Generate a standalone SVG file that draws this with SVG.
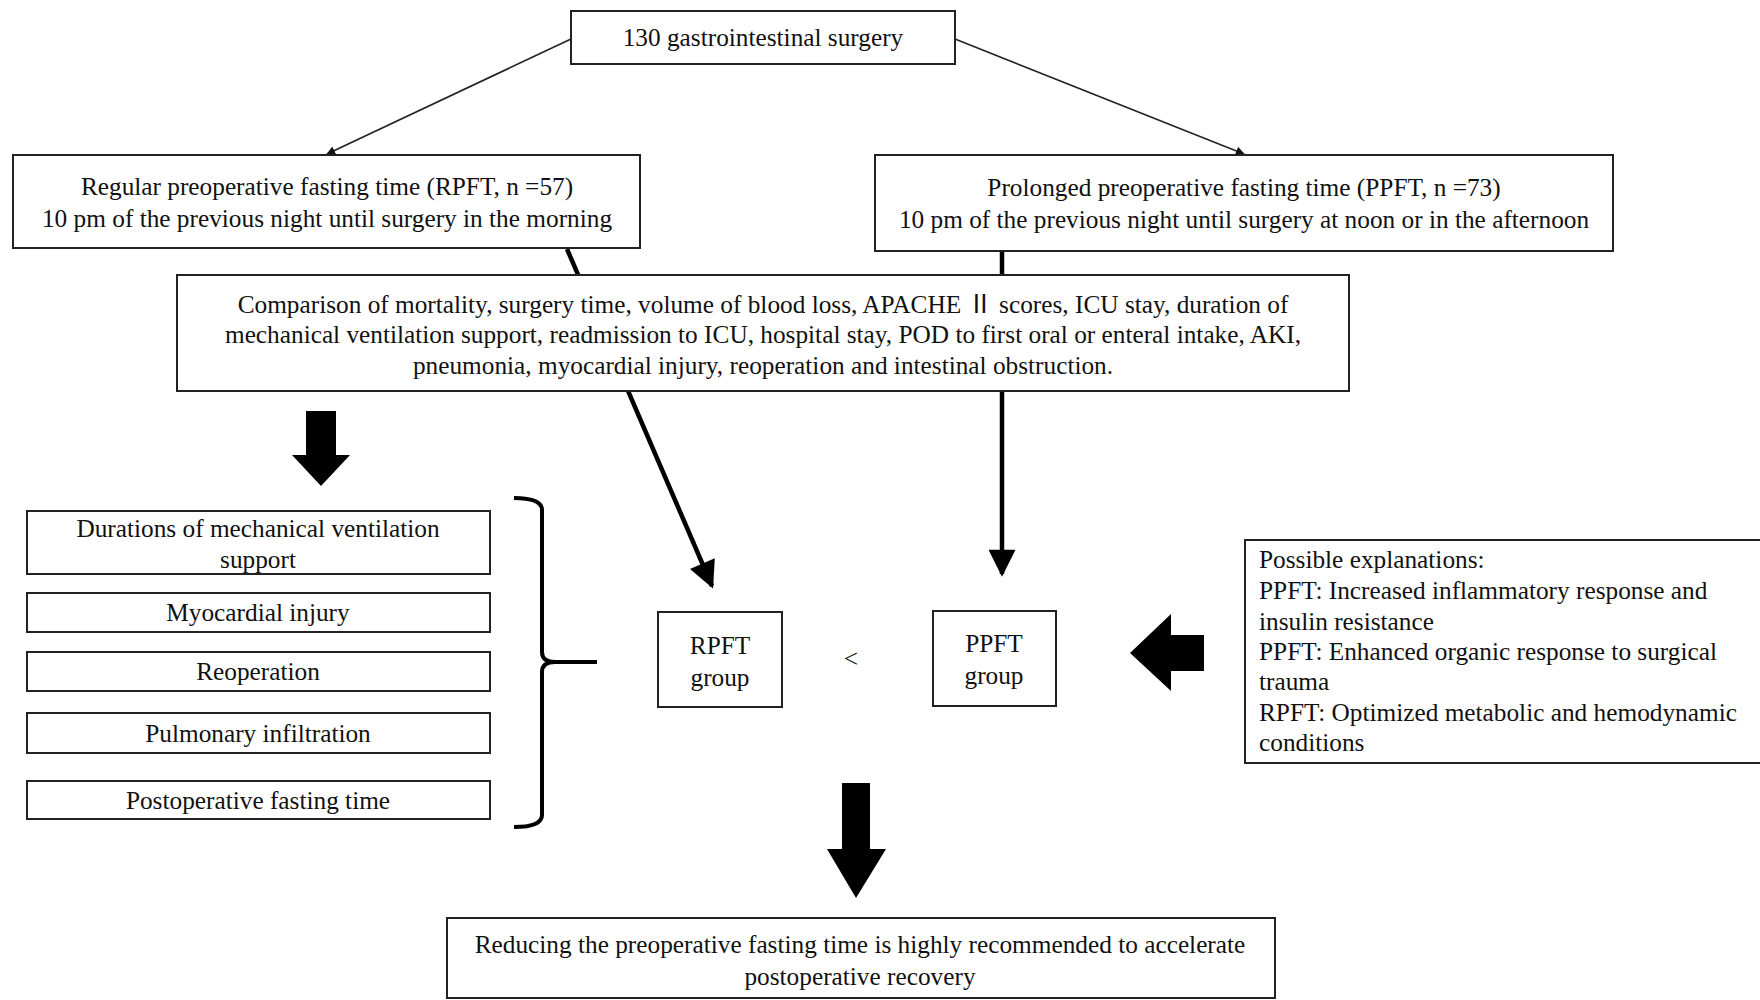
<svg xmlns="http://www.w3.org/2000/svg" width="1760" height="1000" viewBox="0 0 1760 1000">
<defs>
<style>
.box{fill:#fff;stroke:#222;stroke-width:2}
.t{font-family:"Liberation Serif","Times New Roman",serif;font-size:25.3px;fill:#111;text-anchor:middle}
.tl{font-family:"Liberation Serif","Times New Roman","Noto Sans CJK SC",serif;font-size:25.3px;fill:#111}
.thin{stroke:#222;stroke-width:1.6;fill:none}
.thick{stroke:#000;stroke-width:4.5;fill:none}
.block{fill:#000}
</style>
<marker id="ah" viewBox="0 0 10 10" refX="9" refY="5" markerWidth="9" markerHeight="9" markerUnits="userSpaceOnUse" orient="auto"><path d="M0,0 L10,5 L0,10 z" fill="#111"/></marker>
<marker id="ahb" viewBox="0 0 10 10" refX="9" refY="5" markerWidth="7" markerHeight="6" orient="auto"><path d="M0,0 L10,5 L0,10 z" fill="#000"/></marker>
</defs>
<rect width="1760" height="1000" fill="#fff"/>
<g id="connectors">
<line class="thin" x1="571" y1="39" x2="327" y2="154" marker-end="url(#ah)"/>
<line class="thin" x1="955" y1="39" x2="1244" y2="154" marker-end="url(#ah)"/>
<line class="thick" x1="567" y1="249" x2="712" y2="586" marker-end="url(#ahb)"/>
<line class="thick" x1="1002" y1="251" x2="1002" y2="574" marker-end="url(#ahb)"/>
<path class="block" d="M306,411 H336 V455 H350 L321,486 L292,455 H306 Z"/>
<path class="block" d="M842,783 H870 V849 H886 L856,898 L827,849 H842 Z"/>
<path class="block" d="M1204,635 V671 H1171 V691 L1130,653 L1171,614 V635 Z"/>
<path d="M514,498 Q542,498 542,510 V652 Q542,662 555,662 H597 M555,662 Q542,662 542,672 V815 Q542,827 514,827" fill="none" stroke="#000" stroke-width="4"/>
</g>
<g id="n-total"><rect class="box" x="571" y="11" width="384" height="53"/><text class="t" x="763" y="46">130 gastrointestinal surgery</text></g>
<g id="n-rpft"><rect class="box" x="13" y="155" width="627" height="93"/><text class="t" x="327" y="195">Regular preoperative fasting time (RPFT, n =57)</text><text class="t" x="327" y="227">10 pm of the previous night until surgery in the morning</text></g>
<g id="n-ppft"><rect class="box" x="875" y="155" width="738" height="96"/><text class="t" x="1244" y="196">Prolonged preoperative fasting time (PPFT, n =73)</text><text class="t" x="1244" y="228">10 pm of the previous night until surgery at noon or in the afternoon</text></g>
<g id="n-compare"><rect class="box" x="177" y="275" width="1172" height="116"/><text class="t" x="763" y="313">Comparison of mortality, surgery time, volume of blood loss, APACHE <tspan font-family="'Noto Sans CJK SC',sans-serif">Ⅱ</tspan> scores, ICU stay, duration of</text><text class="t" x="763" y="343">mechanical ventilation support, readmission to ICU, hospital stay, POD to first oral or enteral intake, AKI,</text><text class="t" x="763" y="374">pneumonia, myocardial injury, reoperation and intestinal obstruction.</text></g>
<g id="n-mv"><rect class="box" x="27" y="511" width="463" height="63"/><text class="t" x="258" y="537">Durations of mechanical ventilation</text><text class="t" x="258" y="568">support</text></g>
<g id="n-myo"><rect class="box" x="27" y="593" width="463" height="39"/><text class="t" x="258" y="621">Myocardial injury</text></g>
<g id="n-reop"><rect class="box" x="27" y="652" width="463" height="39"/><text class="t" x="258" y="680">Reoperation</text></g>
<g id="n-pulm"><rect class="box" x="27" y="713" width="463" height="40"/><text class="t" x="258" y="742">Pulmonary infiltration</text></g>
<g id="n-postop"><rect class="box" x="27" y="781" width="463" height="38"/><text class="t" x="258" y="809">Postoperative fasting time</text></g>
<g id="n-rpftg"><rect class="box" x="658" y="612" width="124" height="95"/><text class="t" x="720" y="654">RPFT</text><text class="t" x="720" y="686">group</text></g>
<text class="t" x="851" y="667" font-family="'Liberation Sans',sans-serif" font-size="20">&lt;</text>
<g id="n-ppftg"><rect class="box" x="933" y="611" width="123" height="95"/><text class="t" x="994" y="652">PPFT</text><text class="t" x="994" y="684">group</text></g>
<g id="n-expl"><rect class="box" x="1245" y="540" width="530" height="223"/>
<text class="tl" x="1259" y="568">Possible explanations:</text>
<text class="tl" x="1259" y="599">PPFT: Increased inflammatory response and</text>
<text class="tl" x="1259" y="630">insulin resistance</text>
<text class="tl" x="1259" y="660">PPFT: Enhanced organic response to surgical</text>
<text class="tl" x="1259" y="690">trauma</text>
<text class="tl" x="1259" y="721">RPFT: Optimized metabolic and hemodynamic</text>
<text class="tl" x="1259" y="751">conditions</text></g>
<g id="n-concl"><rect class="box" x="447" y="918" width="828" height="80"/><text class="t" x="860" y="953">Reducing the preoperative fasting time is highly recommended to accelerate</text><text class="t" x="860" y="985">postoperative recovery</text></g>
</svg>
